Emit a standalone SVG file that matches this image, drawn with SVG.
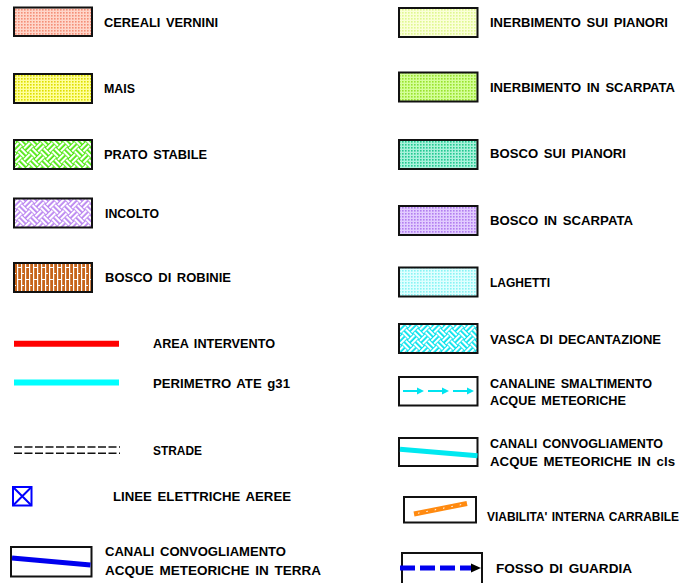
<svg xmlns="http://www.w3.org/2000/svg" width="683" height="583" viewBox="0 0 683 583">
<defs>
<style>
.t{font-family:"Liberation Sans",Arial,sans-serif;font-weight:bold;font-size:13px;word-spacing:2px;fill:#000}
.box{stroke:#111;stroke-width:2}
.frame{fill:#fff;stroke:#111;stroke-width:2}
</style>
<pattern id="dRose" width="3" height="3" patternUnits="userSpaceOnUse"><rect width="3" height="3" fill="#ffd6ca"/><rect x="0" y="0" width="1.6" height="1.6" fill="#f48f78"/></pattern>
<pattern id="dMais" width="3" height="3" patternUnits="userSpaceOnUse"><rect width="3" height="3" fill="#ffff9a"/><rect x="0" y="0" width="1.6" height="1.6" fill="#dede00"/></pattern>
<pattern id="dInerb1" width="3" height="3" patternUnits="userSpaceOnUse"><rect width="3" height="3" fill="#fbffd8"/><rect x="0" y="0" width="1.6" height="1.6" fill="#dff890"/></pattern>
<pattern id="dInerb2" width="3" height="3" patternUnits="userSpaceOnUse"><rect width="3" height="3" fill="#d4ff98"/><rect x="0" y="0" width="1.6" height="1.6" fill="#99e22e"/></pattern>
<pattern id="dBosco1" width="3" height="3" patternUnits="userSpaceOnUse"><rect width="3" height="3" fill="#a8f2dc"/><rect x="0" y="0" width="1.6" height="1.6" fill="#22c890"/></pattern>
<pattern id="dBosco2" width="3" height="3" patternUnits="userSpaceOnUse"><rect width="3" height="3" fill="#e2ccff"/><rect x="0" y="0" width="1.6" height="1.6" fill="#b27ef0"/></pattern>
<pattern id="dLago" width="3" height="3" patternUnits="userSpaceOnUse"><rect width="3" height="3" fill="#e0ffff"/><rect x="0" y="0" width="1.6" height="1.6" fill="#88f4f4"/></pattern>
<g id="weave">
<rect x="0" y="1" width="8" height="2.2"/><rect x="0" y="5" width="8" height="2.2"/>
<rect x="9" y="0" width="2.2" height="8"/><rect x="13" y="0" width="2.2" height="8"/>
<rect x="1" y="8" width="2.2" height="8"/><rect x="5" y="8" width="2.2" height="8"/>
<rect x="8" y="9" width="8" height="2.2"/><rect x="8" y="13" width="8" height="2.2"/>
</g>
<pattern id="wGreen" width="16" height="16" patternUnits="userSpaceOnUse" patternTransform="rotate(45)"><rect width="16" height="16" fill="#4de80c"/><use href="#weave" fill="#fff"/></pattern>
<pattern id="wLilac" width="16" height="16" patternUnits="userSpaceOnUse" patternTransform="rotate(45)"><rect width="16" height="16" fill="#b983f0"/><use href="#weave" fill="#fff"/></pattern>
<pattern id="wCyan" width="16" height="16" patternUnits="userSpaceOnUse" patternTransform="rotate(45)"><rect width="16" height="16" fill="#00e2ec"/><use href="#weave" fill="#fff"/></pattern>
<pattern id="robinie" width="8" height="12" patternUnits="userSpaceOnUse"><rect width="8" height="12" fill="#c6641a"/><rect x="1" y="0" width="1.2" height="12" fill="#fff"/><rect x="5" y="0" width="1.2" height="12" fill="#fff"/><rect x="1" y="3" width="4.5" height="1" fill="#fff"/><rect x="5" y="9" width="4" height="1" fill="#fff"/></pattern>
</defs>

<g id="cereali"><rect class="box" x="14" y="7.5" width="78" height="28.5" fill="url(#dRose)"/><text class="t" x="104" y="27" textLength="114" lengthAdjust="spacingAndGlyphs">CEREALI VERNINI</text></g>
<g id="mais"><rect class="box" x="14" y="74" width="78" height="29" fill="url(#dMais)"/><text class="t" x="104" y="93" textLength="31" lengthAdjust="spacingAndGlyphs">MAIS</text></g>
<g id="prato"><rect class="box" x="14" y="140" width="78" height="29" fill="url(#wGreen)"/><text class="t" x="104" y="159" textLength="103" lengthAdjust="spacingAndGlyphs">PRATO STABILE</text></g>
<g id="incolto"><rect class="box" x="14" y="198.5" width="78" height="29" fill="url(#wLilac)"/><text class="t" x="105" y="218" textLength="54" lengthAdjust="spacingAndGlyphs">INCOLTO</text></g>
<g id="robinie-g"><rect class="box" x="14" y="263" width="78" height="29" fill="url(#robinie)"/><text class="t" x="105" y="282" textLength="126" lengthAdjust="spacingAndGlyphs">BOSCO DI ROBINIE</text></g>

<g id="area"><line x1="14" y1="343.7" x2="119" y2="343.7" stroke="#ff0000" stroke-width="6"/><text class="t" x="153" y="347.5" textLength="122" lengthAdjust="spacingAndGlyphs">AREA INTERVENTO</text></g>
<g id="perimetro"><line x1="14" y1="382.5" x2="119" y2="382.5" stroke="#00ffff" stroke-width="6"/><text class="t" x="153" y="387.5" textLength="137" lengthAdjust="spacingAndGlyphs">PERIMETRO ATE g31</text></g>
<g id="strade"><g stroke="#111" stroke-width="1.6" stroke-dasharray="8 2.5"><line x1="14" y1="447" x2="120" y2="447"/><line x1="14" y1="453.3" x2="120" y2="453.3"/></g><text class="t" x="153" y="455" textLength="49" lengthAdjust="spacingAndGlyphs">STRADE</text></g>
<g id="linee"><g fill="none" stroke="#0000ff" stroke-width="2"><rect x="13" y="487" width="18.5" height="18.5"/><path d="M13 487 L31.5 505.5 M31.5 487 L13 505.5"/></g><text class="t" x="113" y="501" textLength="178" lengthAdjust="spacingAndGlyphs">LINEE ELETTRICHE AEREE</text></g>
<g id="canali-terra"><rect class="frame" x="11" y="547" width="80.5" height="29.5"/><line x1="12" y1="558" x2="90.5" y2="565" stroke="#0000ee" stroke-width="5"/><text class="t" x="105" y="556" textLength="181" lengthAdjust="spacingAndGlyphs">CANALI CONVOGLIAMENTO</text><text class="t" x="105" y="575" textLength="216" lengthAdjust="spacingAndGlyphs">ACQUE METEORICHE IN TERRA</text></g>

<g id="inerb-pian"><rect class="box" x="399" y="8" width="78.5" height="29" fill="url(#dInerb1)"/><text class="t" x="490" y="27" textLength="178" lengthAdjust="spacingAndGlyphs">INERBIMENTO SUI PIANORI</text></g>
<g id="inerb-scarp"><rect class="box" x="399" y="72.5" width="78.5" height="29" fill="url(#dInerb2)"/><text class="t" x="490" y="92" textLength="185" lengthAdjust="spacingAndGlyphs">INERBIMENTO IN SCARPATA</text></g>
<g id="bosco-pian"><rect class="box" x="399" y="140" width="78.5" height="29" fill="url(#dBosco1)"/><text class="t" x="490" y="158" textLength="136" lengthAdjust="spacingAndGlyphs">BOSCO SUI PIANORI</text></g>
<g id="bosco-scarp"><rect class="box" x="399" y="206" width="78.5" height="29" fill="url(#dBosco2)"/><text class="t" x="490" y="224.5" textLength="143" lengthAdjust="spacingAndGlyphs">BOSCO IN SCARPATA</text></g>
<g id="laghetti"><rect class="box" x="399" y="267.5" width="78.5" height="29" fill="url(#dLago)"/><text class="t" x="490" y="287" textLength="60" lengthAdjust="spacingAndGlyphs">LAGHETTI</text></g>
<g id="vasca"><rect class="box" x="399" y="324" width="78.5" height="29" fill="url(#wCyan)"/><text class="t" x="490" y="343.5" textLength="171" lengthAdjust="spacingAndGlyphs">VASCA DI DECANTAZIONE</text></g>
<g id="canaline"><rect class="frame" x="399" y="377" width="78.5" height="28.5"/>
<g stroke="#00e4f0" stroke-width="2" fill="none"><line x1="403" y1="391" x2="418" y2="391"/><line x1="428" y1="391" x2="443" y2="391"/><line x1="453" y1="391" x2="468" y2="391"/></g>
<g fill="#00e4f0"><path d="M417 387.5 L424 391 L417 394.5 Z"/><path d="M442 387.5 L449 391 L442 394.5 Z"/><path d="M467 387.5 L474 391 L467 394.5 Z"/></g>
<text class="t" x="490" y="388" textLength="162" lengthAdjust="spacingAndGlyphs">CANALINE SMALTIMENTO</text><text class="t" x="490" y="404.5" textLength="136" lengthAdjust="spacingAndGlyphs">ACQUE METEORICHE</text></g>
<g id="canali-cls"><rect class="frame" x="399" y="438" width="78.5" height="28"/><line x1="400" y1="449.3" x2="477.5" y2="455.7" stroke="#00e8f0" stroke-width="5"/><text class="t" x="490" y="448" textLength="173" lengthAdjust="spacingAndGlyphs">CANALI CONVOGLIAMENTO</text><text class="t" x="490" y="465.5" textLength="185" lengthAdjust="spacingAndGlyphs">ACQUE METEORICHE IN cls</text></g>
<g id="viabilita"><rect class="frame" x="404" y="497" width="72" height="25.5"/><line x1="414" y1="514" x2="467" y2="503.5" stroke="#ff8a10" stroke-width="5"/><line x1="418" y1="513.2" x2="465" y2="503.9" stroke="#fff" stroke-width="1" stroke-dasharray="1.5 7"/><text class="t" x="487" y="521" style="font-size:12px;word-spacing:1px" textLength="192" lengthAdjust="spacingAndGlyphs">VIABILITA' INTERNA CARRABILE</text></g>
<g id="fosso"><rect class="frame" x="402" y="553" width="80" height="40"/><line x1="400" y1="568" x2="472" y2="568" stroke="#0000ee" stroke-width="5" stroke-dasharray="15 5"/><path d="M471 563.5 L481 568 L471 572.5 Z" fill="#000"/><text class="t" x="496" y="573" textLength="136" lengthAdjust="spacingAndGlyphs">FOSSO DI GUARDIA</text></g>
</svg>
